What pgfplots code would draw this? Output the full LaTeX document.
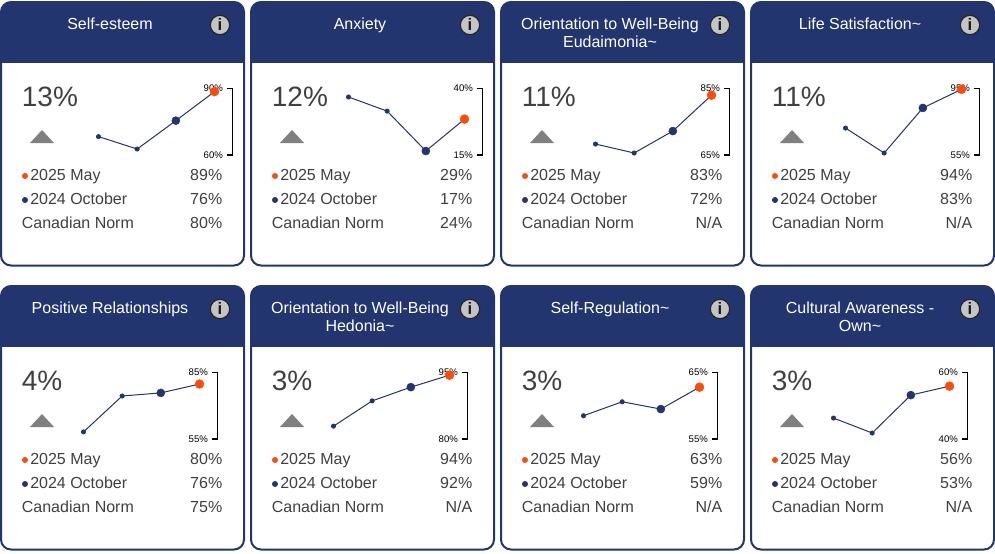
\documentclass[border=0pt]{standalone}
\usepackage{pgfplots}
\pgfplotsset{compat=1.18}
\usepackage{fontspec}
\setmainfont{Liberation Sans}
\definecolor{navy}{HTML}{22356F}
\definecolor{orng}{HTML}{FF4A0A}
\definecolor{txt}{HTML}{404040}
\definecolor{tri}{HTML}{808080}
\definecolor{icon}{HTML}{C4C4C4}
\newcommand{\fs}[1]{\fontsize{#1}{#1}\selectfont}
% #1 x-offset #2 y-offset #3 title1 #4 title2 #5 delta #6 v1 #7 v2 #8 norm
\newcommand{\card}[8]{%
 \begin{scope}[shift={(#1,#2)}]
  \fill[navy,rounded corners=10*0.75pt] (1,62) -- (1,2) -- (244,2) -- (244,62) -- cycle;
  \fill[navy] (1,30) rectangle (244,63);
  \draw[navy,line width=1.5pt,fill=white,rounded corners=7.5pt] (1,63) -- (1,265.5) -- (244,265.5) -- (244,63);
  \fill[navy] (0,55) rectangle (245,63);
  \draw[navy,line width=1.5pt,rounded corners=7.5pt] (1,63) -- (1,2) -- (244,2) -- (244,63);
  \node[white,anchor=base,inner sep=0] at (110,29) {\fs{12}#3};
  \node[white,anchor=base,inner sep=0] at (110,47.5) {\fs{12}#4};
  \draw[fill=icon,draw=black!85,line width=.9pt] (220,25) circle[radius=9.7];
  \node[black!90,anchor=base,inner sep=0] at (220,30.5) {\fs{12.5}\bfseries i};
  \node[txt,anchor=base west,inner sep=0] at (21.6,106) {\fs{21}#5};
  \fill[tri] (30,143) -- (42,130) -- (54,143) -- cycle;
  \fill[orng] (25,176) circle[radius=3];
  \fill[navy] (25,200) circle[radius=3];
  \node[txt,anchor=base west,inner sep=0] at (30,180) {\fs{12}2025 May};
  \node[txt,anchor=base west,inner sep=0] at (30,204) {\fs{12}2024 October};
  \node[txt,anchor=base west,inner sep=0] at (21.6,228) {\fs{12}Canadian Norm};
  \node[txt,anchor=base east,inner sep=0] at (222.5,180) {\fs{12}#6};
  \node[txt,anchor=base east,inner sep=0] at (222.5,204) {\fs{12}#7};
  \node[txt,anchor=base east,inner sep=0] at (222.5,228) {\fs{12}#8};
 \end{scope}%
}
% #1 left-x px #2 bottom-y px #3 ymin #4 ymax #5 coordinates line #6 third #7 fourth
\newcommand{\spark}[7]{%
 \coordinate (sw) at (#1,#2);
 \begin{axis}[at={(sw)},anchor=south west,scale only axis,width=100.5pt,height=49.875pt,
   xmin=0,xmax=3.465,ymin=#3,ymax=#4,clip=false,
   axis x line=none,axis y line*=right,ytick={#3,#4},
   tick align=inside,major tick length=4.5pt,
   tick style={black,line width=.85pt},axis line style={black,line width=.85pt},
   /pgf/number format/assume math mode=true,
   yticklabel={\pgfmathprintnumber{\tick}\%},
   y tick label style={anchor=east,inner sep=0pt,xshift=-7pt,font=\fs{7.2},text=black},
  ]
  \addplot[navy,line width=.75pt,mark=*,mark size=1.5pt,mark options={fill=navy,draw=navy}] coordinates {#5};
  \addplot[only marks,mark=*,mark size=3pt,mark options={fill=navy,draw=navy}] coordinates {#6};
  \addplot[only marks,mark=*,mark size=3.3pt,mark options={fill=orng,draw=orng}] coordinates {#7};
 \end{axis}%
}
\begin{document}
\begin{tikzpicture}[x=0.75pt,y=-0.75pt]
\path (0,0) rectangle (995,553);
\card{0}{0}{Self-esteem}{}{13\%}{89\%}{76\%}{80\%}
\card{250}{0}{Anxiety}{}{12\%}{29\%}{17\%}{24\%}
\card{500}{0}{Orientation to Well-Being}{Eudaimonia\textasciitilde}{11\%}{83\%}{72\%}{N/A}
\card{750}{0}{Life Satisfaction\textasciitilde}{}{11\%}{94\%}{83\%}{N/A}
\card{0}{284}{Positive Relationships}{}{4\%}{80\%}{76\%}{75\%}
\card{250}{284}{Orientation to Well-Being}{Hedonia\textasciitilde}{3\%}{94\%}{92\%}{N/A}
\card{500}{284}{Self-Regulation\textasciitilde}{}{3\%}{63\%}{59\%}{N/A}
\card{750}{284}{Cultural Awareness -}{Own\textasciitilde}{3\%}{56\%}{53\%}{N/A}
\spark{98.5}{155}{60}{90}{(0,68.3)(1,62.7)(2,75.5)(3,88.6)}{(2,75.5)}{(3,88.6)}
\spark{348.5}{155}{15}{40}{(0,36.8)(1,31.5)(2,16.5)(3,28.5)}{(2,16.5)}{(3,28.5)}
\spark{595.5}{155}{65}{85}{(0,68.3)(1,65.6)(2,72.2)(3,83)}{(2,72.2)}{(3,83)}
\spark{845.5}{155}{55}{95}{(0,71.2)(1,56.2)(2,83.3)(3,94.5)}{(2,83.3)}{(3,94.5)}
\spark{83.5}{439}{55}{85}{(0,58.2)(1,74.4)(2,75.8)(3,79.8)}{(2,75.8)}{(3,79.8)}
\spark{333.5}{439}{80}{95}{(0,82.9)(1,88.6)(2,91.7)(3,94.4)}{(2,91.7)}{(3,94.4)}
\spark{583.5}{439}{55}{65}{(0,58.5)(1,60.6)(2,59.5)(3,62.8)}{(2,59.5)}{(3,62.8)}
\spark{833.5}{439}{40}{60}{(0,46.3)(1,41.8)(2,53.2)(3,55.9)}{(2,53.2)}{(3,55.9)}
\end{tikzpicture}
\end{document}
